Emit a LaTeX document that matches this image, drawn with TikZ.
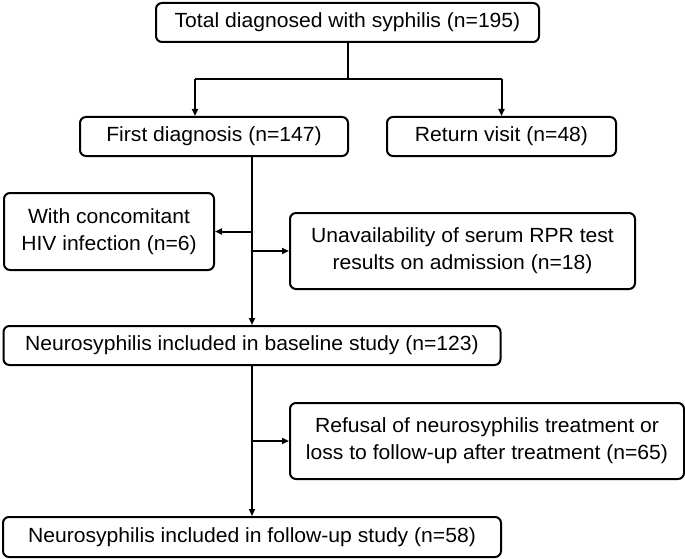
\documentclass[tikz,border=0pt]{standalone}
\usepackage{fontspec}
\setmainfont{Liberation Sans}[FakeStretch=1.03]
\usetikzlibrary{arrows.meta,calc}
\begin{document}
\begin{tikzpicture}[x=1pt,y=-1pt,
  box/.style={draw,line width=2pt,rounded corners=6pt,inner sep=0pt,align=center,
    font=\fontsize{20.5}{27}\selectfont},
  conn/.style={line width=2pt},
  arr/.style={line width=2pt,-{Triangle[length=7pt,width=6pt]}}]
\useasboundingbox (0,0) rectangle (685,559);
\node[box,minimum width=383pt,minimum height=39pt] (top) at (347.5,22.5) {Total diagnosed with syphilis (n=195)};
\node[box,minimum width=268pt,minimum height=39pt] (first) at (214,136.5) {First diagnosis (n=147)};
\node[box,minimum width=229pt,minimum height=39pt] (ret) at (501.5,136.5) {Return visit (n=48)};
\node[box,minimum width=210pt,minimum height=77pt] (hiv) at (109,231.5) {With concomitant\\HIV infection (n=6)};
\node[box,minimum width=345pt,minimum height=76pt] (rpr) at (462.5,251) {Unavailability of serum RPR test\\results on admission (n=18)};
\node[box,minimum width=497pt,minimum height=39pt] (base) at (252,345.5) {Neurosyphilis included in baseline study (n=123)};
\node[box,minimum width=394pt,minimum height=76pt] (ref) at (487,441) {Refusal of neurosyphilis treatment or\\loss to follow-up after treatment (n=65)};
\node[box,minimum width=498pt,minimum height=40pt] (fin) at (252,537) {Neurosyphilis included in follow-up study (n=58)};
\coordinate (split) at (348,79);
\draw[conn] (top.south -| split) -- (split);
\draw[arr] (195,79) coordinate (sl) -- (sl |- first.north);
\draw[conn] (sl) -- (ret.north |- split) coordinate (sr);
\draw[arr] (sr) -- (ret.north);
\coordinate (v1) at (252,0);
\draw[arr] (first.south -| v1) -- (base.north -| v1);
\draw[arr] (v1 |- hiv.east) -- (hiv.east);
\draw[arr] (v1 |- rpr.west) -- (rpr.west);
\draw[arr] (base.south -| v1) -- (fin.north -| v1);
\draw[arr] (v1 |- ref.west) -- (ref.west);
\end{tikzpicture}
\end{document}
